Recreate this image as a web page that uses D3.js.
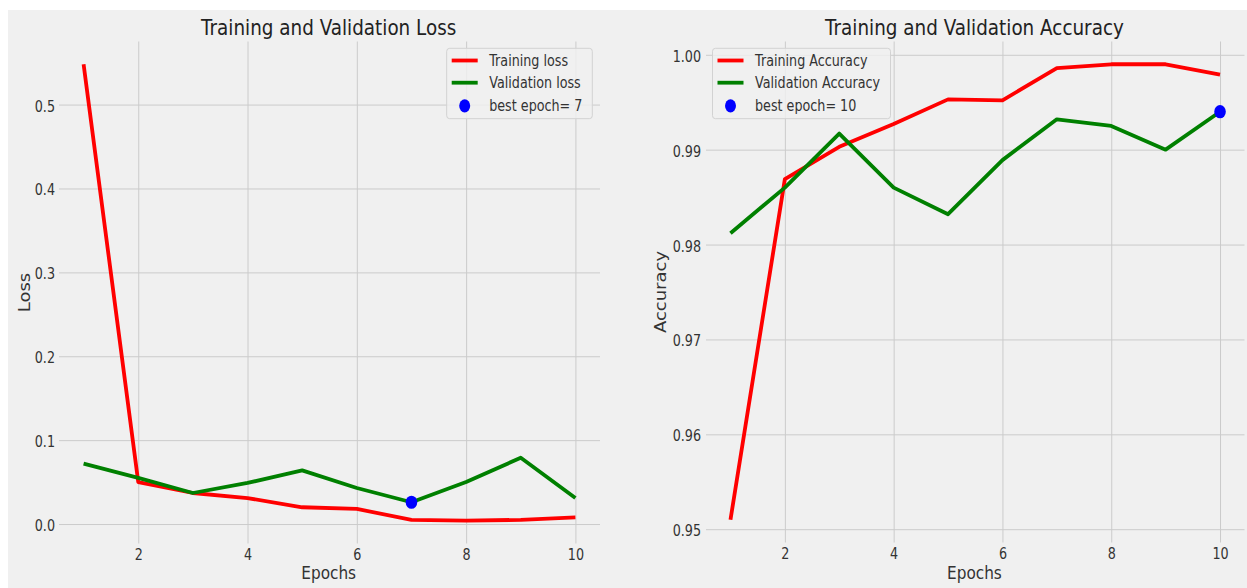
<!DOCTYPE html>
<html>
<head>
<meta charset="utf-8">
<script src="https://cdn.jsdelivr.net/npm/d3@7"></script>
<style>
  html, body { margin: 0; padding: 0; background: #ffffff; }
  svg { display: block; font-family: "DejaVu Sans", sans-serif; }
</style>
</head>
<body>
<svg id="chart" width="1247" height="588"></svg>
<script>
// ---------------- data ----------------
const epochs = [1, 2, 3, 4, 5, 6, 7, 8, 9, 10];
const trainLoss = [0.548, 0.050, 0.037, 0.031, 0.020, 0.018, 0.005, 0.004, 0.005, 0.008];
const valLoss   = [0.072, 0.055, 0.037, 0.049, 0.064, 0.043, 0.026, 0.050, 0.079, 0.031];
const trainAcc  = [0.951, 0.9869, 0.9903, 0.9927, 0.9953, 0.9952, 0.9986, 0.9990, 0.9990, 0.9979];
const valAcc    = [0.9812, 0.9860, 0.9917, 0.9860, 0.9832, 0.9889, 0.9932, 0.9925, 0.9900, 0.9940];
const xTicks = [2, 4, 6, 8, 10];
const lossTicks = [0.0, 0.1, 0.2, 0.3, 0.4, 0.5];
const accTicks = [0.95, 0.96, 0.97, 0.98, 0.99, 1.00];
const lossBest = 7;
const accBest = 10;
const lossTitle = "Training and Validation Loss";
const accTitle = "Training and Validation Accuracy";
const lossLegend = ["Training loss", "Validation loss", "best epoch= " + lossBest];
const accLegend = ["Training Accuracy", "Validation Accuracy", "best epoch= " + accBest];

// ---------------- drawing ----------------
const SX = 0.85;           // horizontal squeeze of the original picture
const FS_TICK = 15, FS_LABEL = 18, FS_TITLE = 21.6;
const svg = d3.select("#chart");
svg.append("rect").attr("x", 8).attr("y", 10).attr("width", 1239).attr("height", 578).attr("fill", "#f0f0f0");

function padded(vals) {
  const mn = d3.min(vals), mx = d3.max(vals), m = (mx - mn) * 0.05;
  return [mn - m, mx + m];
}
// squeeze a text element horizontally around its anchor point
function squeeze(sel) {
  sel.each(function () {
    const t = d3.select(this);
    const x = +t.attr("x") || 0;
    t.attr("transform", `translate(${x},0) scale(${SX},1) translate(${-x},0)`);
  });
}

function panel(opt) {
  const g = svg.append("g");
  const x = d3.scaleLinear().domain(padded(epochs)).range([opt.left, opt.right]);
  const y = d3.scaleLinear().domain(padded(opt.train.concat(opt.val))).range([opt.bottom, opt.top]);

  // grid + tick labels
  g.append("g").attr("transform", `translate(0,${opt.bottom})`)
    .call(d3.axisBottom(x).tickValues(xTicks).tickSize(-(opt.bottom - opt.top)).tickFormat(d3.format("d")).tickPadding(5.5))
    .call(a => a.select(".domain").remove())
    .call(a => a.selectAll(".tick line").attr("stroke", "#cbcbcb").attr("stroke-width", 1))
    .call(a => a.selectAll(".tick text").attr("font-size", FS_TICK).attr("fill", "#333").attr("font-family", "DejaVu Sans").call(squeeze));
  g.append("g").attr("transform", `translate(${opt.left},0)`)
    .call(d3.axisLeft(y).tickValues(opt.ticks).tickSize(-(opt.right - opt.left)).tickFormat(d3.format(opt.fmt)).tickPadding(opt.pad))
    .call(a => a.select(".domain").remove())
    .call(a => a.selectAll(".tick line").attr("stroke", "#cbcbcb").attr("stroke-width", 1))
    .call(a => a.selectAll(".tick text").attr("font-size", FS_TICK).attr("fill", "#333").attr("dy", "0.43em")
      .attr("font-family", "DejaVu Sans").call(squeeze));

  const line = d3.line().x((d, i) => x(epochs[i])).y(d => y(d));
  g.append("path").datum(opt.train).attr("d", line).attr("fill", "none")
    .attr("stroke", "#ff0000").attr("stroke-width", 3.8).attr("stroke-linejoin", "round");
  g.append("path").datum(opt.val).attr("d", line).attr("fill", "none")
    .attr("stroke", "#008000").attr("stroke-width", 3.8).attr("stroke-linejoin", "round");
  g.append("ellipse").attr("cx", x(opt.best)).attr("cy", y(opt.val[opt.best - 1]))
    .attr("rx", 5.8).attr("ry", 6.6).attr("fill", "#0000ff");

  // title & labels
  const cx = (opt.left + opt.right) / 2 - 0.8;
  g.append("text").attr("x", cx).attr("y", 35).attr("text-anchor", "middle")
    .attr("font-size", FS_TITLE).attr("fill", "#222").text(opt.title).call(squeeze);
  g.append("text").attr("x", cx).attr("y", 579).attr("text-anchor", "middle")
    .attr("font-size", FS_LABEL).attr("fill", "#333").text("Epochs").call(squeeze);
  g.append("text").attr("transform", `translate(${opt.ylabX},${(opt.top + opt.bottom) / 2}) scale(${SX},1) rotate(-90)`)
    .attr("text-anchor", "middle").attr("font-size", FS_LABEL).attr("fill", "#333").text(opt.ylab);

  // legend
  const L = opt.legend;
  g.append("rect").attr("x", L.x).attr("y", 48.3).attr("width", L.w).attr("height", 70.4)
    .attr("rx", 3).attr("fill", "#f0f0f0").attr("fill-opacity", 0.8)
    .attr("stroke", "#d2d2d2").attr("stroke-width", 1);
  const rows = [60.5, 82.7, 105.8];
  const cols = ["#ff0000", "#008000"];
  opt.legendLabels.forEach((t, i) => {
    if (i < 2) {
      g.append("line").attr("x1", L.x + 5).attr("x2", L.x + 31).attr("y1", rows[i]).attr("y2", rows[i])
        .attr("stroke", cols[i]).attr("stroke-width", 3.8);
    } else {
      g.append("ellipse").attr("cx", L.x + 18).attr("cy", rows[i]).attr("rx", 5.5).attr("ry", 6.6).attr("fill", "#0000ff");
    }
    g.append("text").attr("x", L.x + 42.5).attr("y", rows[i] + 5.4).attr("font-size", FS_TICK)
      .attr("fill", "#333").text(t).call(squeeze);
  });
}

panel({
  left: 59, right: 600, top: 41.5, bottom: 543.5,
  train: trainLoss, val: valLoss, best: lossBest,
  ticks: lossTicks, fmt: ".1f", pad: 4,
  title: lossTitle, ylab: "Loss", ylabX: 29.5,
  legend: { x: 446.7, w: 145.6 }, legendLabels: lossLegend
});
panel({
  left: 706, right: 1244.5, top: 41.5, bottom: 542.5,
  train: trainAcc, val: valAcc, best: accBest,
  ticks: accTicks, fmt: ".2f", pad: 5,
  title: accTitle, ylab: "Accuracy", ylabX: 666,
  legend: { x: 712.5, w: 178 }, legendLabels: accLegend
});
</script>
</body>
</html>
